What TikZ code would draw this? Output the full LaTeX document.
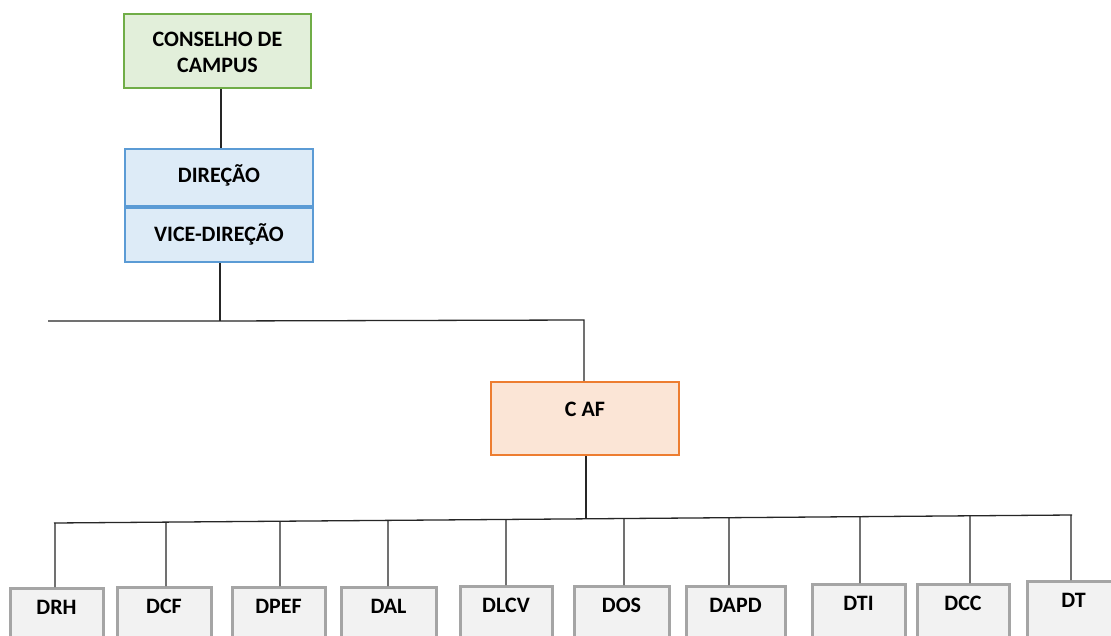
\documentclass[tikz,border=0pt]{standalone}
\usepackage{fontspec}
\setmainfont{Carlito}
\usetikzlibrary{calc}
\definecolor{gbd}{HTML}{70AD47}\definecolor{gfl}{HTML}{E2EFDA}
\definecolor{bbd}{HTML}{5B9BD5}\definecolor{bfl}{HTML}{DDEBF7}
\definecolor{obd}{HTML}{ED7D31}\definecolor{ofl}{HTML}{FBE5D6}
\definecolor{ybd}{HTML}{A5A5A5}\definecolor{yfl}{HTML}{F2F2F2}
\definecolor{ln}{HTML}{262626}
\begin{document}
\begin{tikzpicture}[x=1pt,y=-1pt,
  box/.style={rectangle,line width=2.5pt,inner sep=0pt},
  greenbox/.style={box,draw=gbd,fill=gfl},
  bluebox/.style={box,draw=bbd,fill=bfl},
  orangebox/.style={box,draw=obd,fill=ofl},
  graybox/.style={box,draw=ybd,fill=yfl,minimum height=60pt,line width=3pt},
  txt/.style={font=\fontsize{22}{26}\selectfont\bfseries,text=black,inner sep=0pt,align=center},
  conn/.style={draw=ln,line width=1.3pt}]
\useasboundingbox (0,0) rectangle (1111,636);
\fill[white] (0,0) rectangle (1111,636);
% top boxes
\node[greenbox,minimum width=187pt,minimum height=74pt] (cons) at (217.5,51) {};
\node[txt] (const) at (217.5,52) {CONSELHO DE\\CAMPUS};
\node[bluebox,minimum width=188pt,minimum height=57.5pt] (dir) at (219,177.75) {};
\node[txt] (dirt) at (219,175) {DIREÇÃO};
\node[bluebox,minimum width=188pt,minimum height=54.5pt] (vice) at (219,234.75) {};
\node[txt] (vicet) at (219,234) {VICE-DIREÇÃO};
\node[orangebox,minimum width=188pt,minimum height=73pt] (caf) at (585,418.5) {};
\node[txt] (caft) at (585,409) {C AF};
% connectors top
\coordinate (c1) at (221,0);
\draw[conn] (cons.south -| c1) -- (dir.north -| c1);
\coordinate (j1) at (220,321);
\coordinate (l1) at (48,321);
\coordinate (r1) at (584,320);
\draw[conn] (vice.south -| j1) -- (j1);
\draw[conn] (l1) -- (j1) -- (r1) -- (caf.north -| r1);
% bottom boxes
\foreach \n/\t/\xa/\xb/\yt in {drh/DRH/10/103/587, dcf/DCF/117/211/586, dpef/DPEF/232/325/586, dal/DAL/341/436/586, dlcv/DLCV/460/552/585, dos/DOS/574/669/585, dapd/DAPD/686/785/585, dti/DTI/812/905/583, dcc/DCC/917/1009/583, dt/DT/1027/1120/580}{
  \node[graybox,minimum width={\xb-\xa},anchor=north] (\n) at ({(\xa+\xb)/2},\yt) {};
  \node[txt] (\n t) at ({(\xa+\xb)/2},\yt+20) {\t};
}
% bus
\coordinate (bl) at (54,523);
\coordinate (br) at (1072,515);
\coordinate (cj) at (586,518.8);
\draw[conn] (caf.south -| cj) -- (cj);
\draw[conn] (bl) -- (br);
\foreach \n/\x in {drh/55, dcf/166, dpef/280, dal/388, dlcv/506, dos/624, dapd/729, dti/860, dcc/970, dt/1071}{
  \draw[conn] ($(bl)!{(\x-54)/1018}!(br)$) -- (\n.north -| \x,0);
}
\end{tikzpicture}
\end{document}
